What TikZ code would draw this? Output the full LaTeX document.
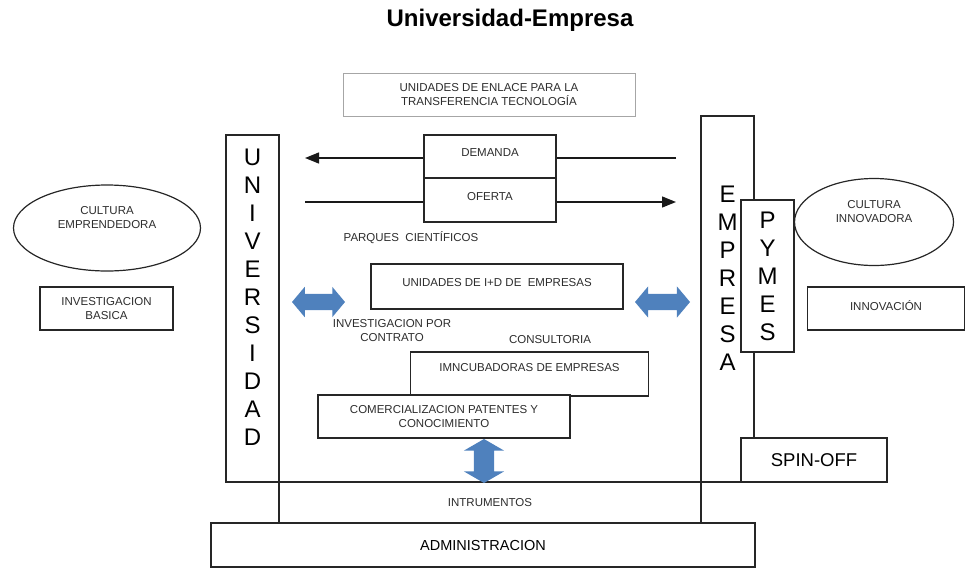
\documentclass[tikz,border=0pt]{standalone}
\usepackage{fontspec}
\setmainfont{Liberation Sans}
\usepackage{xcolor}
\usetikzlibrary{arrows.meta,shapes.geometric,shapes.arrows}

\definecolor{arrowblue}{RGB}{79,129,189}
\definecolor{txtgray}{RGB}{45,45,45}
\newcommand{\boxfont}{\fontsize{11.5}{14}\selectfont}
\newcommand{\pillarfont}{\fontsize{24}{28}\selectfont}

\begin{document}
\begin{tikzpicture}[x=1pt, y=-1pt, >={Triangle[length=14pt,width=11pt]},
  box/.style={draw=black!85, line width=1.2pt, fill=white, inner sep=0pt, align=center, text=txtgray, font=\boxfont},
  oval/.style={ellipse, draw=black!85, line width=1.2pt, inner sep=0pt, align=center, text=txtgray, font=\boxfont},
  pillar/.style={draw=black!85, line width=1.2pt, fill=white, inner sep=0pt, align=center, font=\pillarfont, minimum width=53pt},
  bluearrow/.style={double arrow, fill=arrowblue, draw=none},
  plain/.style={text=txtgray, font=\boxfont, align=center},
  link/.style={line width=1.3pt, black!90}]
  \useasboundingbox (0,0) rectangle (965,571);

  \node[font=\bfseries\fontsize{24}{28}\selectfont] (title) at (510,20) {Universidad-Empresa};

  % enlace y flujos
  \node[box, draw=black!35, line width=0.9pt, minimum width=292pt, minimum height=43pt] (enlace) at (489,94.5) {UNIDADES DE ENLACE PARA LA\\TRANSFERENCIA TECNOLOGÍA};
  \node[box, minimum width=132pt, minimum height=43pt, text depth=8pt] (dem) at (490,156.5) {DEMANDA};
  \node[box, minimum width=132pt, minimum height=44pt, text depth=8pt] (ofe) at (490,200) {OFERTA};
  \coordinate (demEnd) at (676,158);
  \coordinate (demTip) at (305,158);
  \coordinate (ofeStart) at (305,202);
  \coordinate (ofeTip) at (676,202);
  \draw[link] (demEnd) -- (demEnd -| dem.east);
  \draw[link,->] (demTip -| dem.west) -- (demTip);
  \draw[link] (ofeStart) -- (ofeStart -| ofe.west);
  \draw[link,->] (ofeTip -| ofe.east) -- (ofeTip);

  % pilares
  \node[box, minimum width=422pt, minimum height=41pt] (instr) at (490,502.5) {INTRUMENTOS};
  \node[pillar, minimum height=347pt, text depth=22pt] (univ) at (252.5,308.5) {U\\N\\I\\V\\E\\R\\S\\I\\D\\A\\D};
  \node[pillar, minimum height=366pt, text depth=42pt] (empresa) at (727.5,299) {E\\M\\P\\R\\E\\S\\A};
  \node[pillar, minimum height=152pt] (pymes) at (767.5,276) {P\\Y\\M\\E\\S};
  \node[box, font=\fontsize{18.5}{22}\selectfont, text=black, minimum width=146pt, minimum height=44pt] (spin) at (814,460) {SPIN-OFF};
  \node[box, font=\fontsize{14.5}{17}\selectfont, text=black, minimum width=544pt, minimum height=44pt] (admin) at (483,545) {ADMINISTRACION};

  % lados
  \node[oval, minimum width=187pt, minimum height=86pt, text depth=22pt] (empren) at (107,228) {CULTURA\\EMPRENDEDORA};
  \node[box, minimum width=133pt, minimum height=43pt] (basica) at (106.5,308.5) {INVESTIGACION\\BASICA};
  \node[oval, minimum width=159pt, minimum height=87pt, text depth=22pt] (innovad) at (874,222) {CULTURA\\INNOVADORA};
  \node[box, minimum width=157pt, minimum height=43pt, text depth=6pt] (innov) at (886,308.5) {INNOVACIÓN};

  % centro
  \node[plain] (parques) at (411,238) {PARQUES\ \ CIENTÍFICOS};
  \node[box, minimum width=252pt, minimum height=45pt, text depth=9pt] (id) at (497,286.5) {UNIDADES DE I+D DE\ \ EMPRESAS};
  \node[plain] (contrato) at (392,330.5) {INVESTIGACION POR\\CONTRATO};
  \node[plain] (consult) at (550,340) {CONSULTORIA};
  \node[box, minimum width=238pt, minimum height=44pt, text depth=13pt] (incub) at (529.5,374) {IMNCUBADORAS DE EMPRESAS};
  \node[box, minimum width=252pt, minimum height=43pt] (comerc) at (444,416.5) {COMERCIALIZACION PATENTES Y\\CONOCIMIENTO};

  % flechas azules
  \node[bluearrow, inner sep=8pt, minimum height=53pt, double arrow head extend=7pt, double arrow tip angle=100] (leftarr) at (318.5,302) {};
  \node[bluearrow, inner sep=8pt, minimum height=55pt, double arrow head extend=7.5pt, double arrow tip angle=100] (rightarr) at (662.5,302) {};
  \node[bluearrow, inner sep=10pt, shape border rotate=90, minimum height=44pt, double arrow head extend=10pt, double arrow tip angle=120] (vertarr) at (484,461) {};
\end{tikzpicture}
\end{document}
